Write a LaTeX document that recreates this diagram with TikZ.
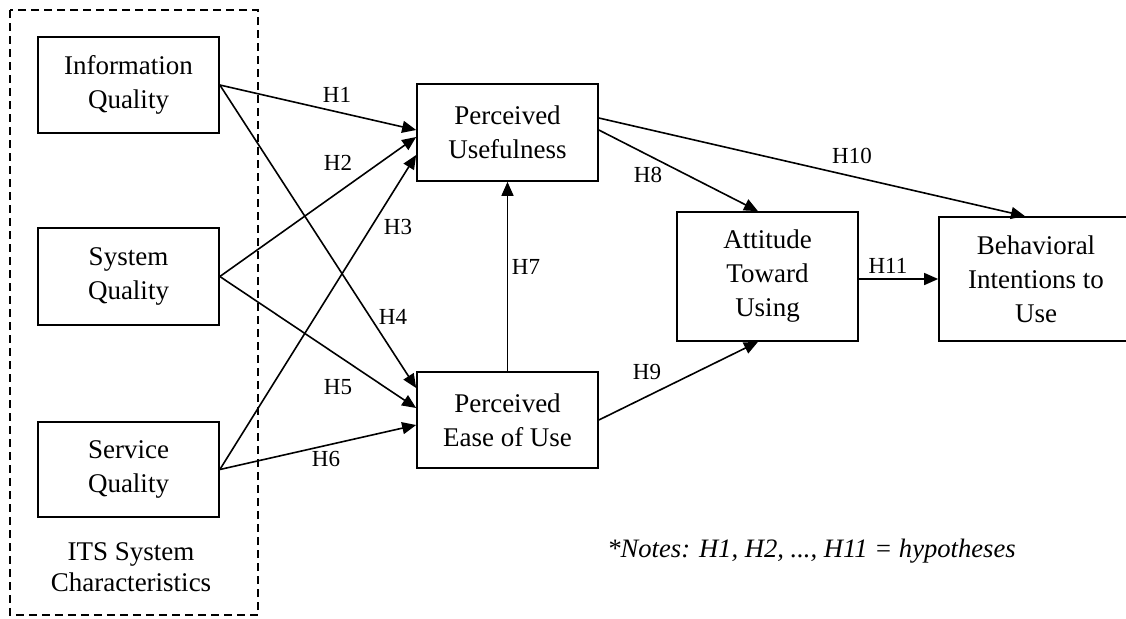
\documentclass[tikz,border=0pt]{standalone}
\usepackage{fontspec}
\setmainfont{Liberation Serif}
\usetikzlibrary{arrows.meta}

\tikzset{
  construct/.style={draw, line width=0.85pt, minimum width=90.5pt, inner sep=0pt, align=center, font=\fontsize{13.5}{17}\selectfont},
  hyp/.style={-{Triangle[length=7pt,width=6pt]}, line width=0.8pt},
  hlabel/.style={inner sep=0pt, font=\fontsize{11.5}{13}\selectfont},
}

\begin{document}
\begin{tikzpicture}[x=0.5pt,y=-0.5pt]
	\useasboundingbox (0,0) rectangle (1126,618);
	% system characteristics group
	\draw[line width=1.1pt, dash pattern=on 4pt off 2.5pt] (10,10) rectangle (258,615);
	\node[construct, minimum height=48pt] (iq) at (128.5,85) {Information\\Quality};
	\node[construct, minimum height=48.5pt] (sq) at (128.5,276.5) {System\\Quality};
	\node[construct, minimum height=47.5pt] (svq) at (128.5,469.5) {Service\\Quality};
	\node[align=center, inner sep=0pt, font=\fontsize{13.5}{15.5}\selectfont] (its) at (131,567) {ITS System\\Characteristics};
	% TAM constructs
	\node[construct, minimum height=48.5pt] (pu) at (507.5,132.5) {Perceived\\Usefulness};
	\node[construct, minimum height=48pt] (peou) at (507.5,420) {Perceived\\Ease of Use};
	\node[construct, minimum height=64.5pt] (att) at (767.5,276.5) {Attitude\\Toward\\Using};
	\node[construct, minimum height=62pt, minimum width=97pt] (bi) at (1036,279) {Behavioral\\Intentions to\\Use};
	% hypotheses
	\draw[hyp] (iq.east) -- ([yshift=1.25pt]pu.west);
	\draw[hyp] (sq.east) -- ([yshift=-2.25pt]pu.west);
	\draw[hyp] (svq.east) -- ([yshift=-11.25pt]pu.west);
	\draw[hyp] (iq.east) -- ([yshift=16pt]peou.west);
	\draw[hyp] (sq.east) -- ([yshift=6pt]peou.west);
	\draw[hyp] (svq.east) -- ([yshift=-2.5pt]peou.west);
	\draw[hyp] (peou.north) -- (pu.south);
	\draw[hyp] ([yshift=1.25pt]pu.east) -- ([xshift=-4.75pt]att.north);
	\draw[hyp] (peou.east) -- ([xshift=-4.75pt]att.south);
	\draw[hyp] ([yshift=7.25pt]pu.east) -- ([xshift=-5.5pt]bi.north);
	\draw[hyp] ([yshift=-1.25pt]att.east) -- (bi.west);
	\node[hlabel] (h1) at (337,95) {H1};
	\node[hlabel] (h2) at (338,163) {H2};
	\node[hlabel] (h3) at (398,227) {H3};
	\node[hlabel] (h4) at (393,317) {H4};
	\node[hlabel] (h5) at (338,387) {H5};
	\node[hlabel] (h6) at (326,459) {H6};
	\node[hlabel] (h7) at (526,267) {H7};
	\node[hlabel] (h8) at (648,175) {H8};
	\node[hlabel] (h9) at (647,372) {H9};
	\node[hlabel] (h10) at (852,156) {H10};
	\node[hlabel] (h11) at (888,266) {H11};
	\node[anchor=base west, inner sep=0pt, font=\itshape\fontsize{13.3}{15}\selectfont] (notes) at (607,557) {*Notes: H1, H2, ..., H11 = hypotheses};
\end{tikzpicture}
\end{document}
